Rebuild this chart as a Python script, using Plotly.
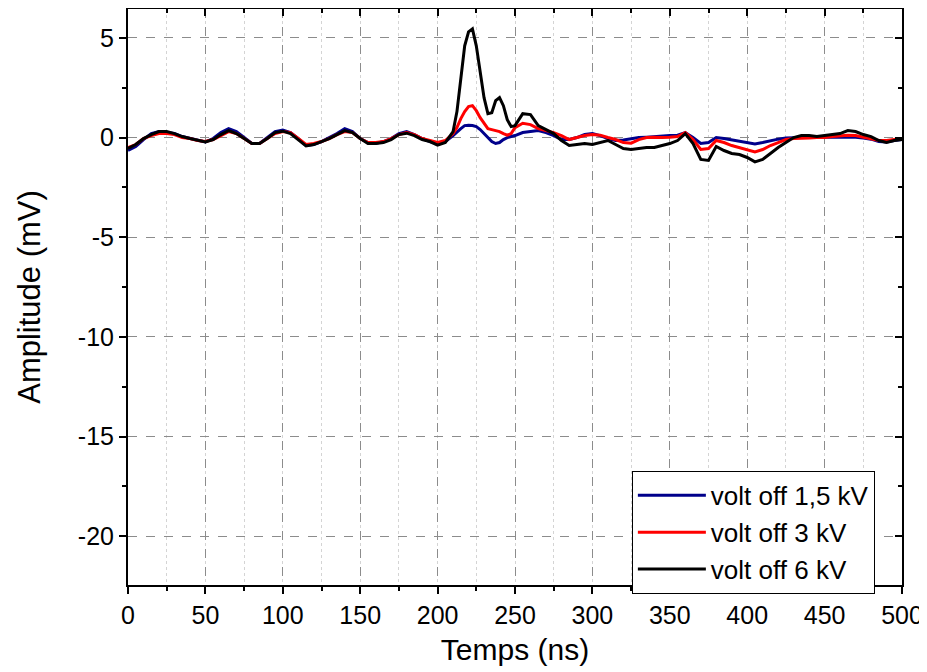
import plotly.graph_objects as go

# time axis (ns)
time_ns = [0, 5, 10, 15, 20, 25, 30, 35, 40, 45, 50, 55, 60, 65, 70, 75, 80, 85, 90, 95,
           100, 105, 110, 115, 120, 125, 130, 135, 140, 145, 150, 155, 160, 165, 170, 175,
           180, 185, 190, 195, 200, 205, 210,
           212.5, 215, 217.5, 220, 222.5, 225, 227.5, 230, 232.5, 235, 237.5, 240, 242.5,
           245, 247.5, 250,
           255, 260, 265, 270, 275, 280, 285, 290, 295, 300, 305, 310, 315, 320, 325, 330,
           335, 340, 345, 350, 355, 360, 365, 370, 375, 380, 385, 390, 395, 400, 405, 410,
           415, 420, 425, 430, 435, 440, 445, 450, 455, 460, 465, 470, 475, 480, 485, 490,
           495, 500]

volt_1_5kV = [-0.65, -0.45, -0.1, 0.2, 0.3, 0.25, 0.2, 0.05, -0.05, -0.15, -0.22, -0.05, 0.25,
              0.45, 0.3, 0.0, -0.3, -0.3, 0.0, 0.3, 0.38, 0.25, -0.05, -0.4, -0.35, -0.2, 0.0,
              0.2, 0.45, 0.3, -0.05, -0.25, -0.3, -0.2, -0.05, 0.2, 0.3, 0.15, -0.05, -0.2,
              -0.3, -0.2, 0.1,
              0.3, 0.45, 0.6, 0.62, 0.6, 0.55, 0.4, 0.2, 0.0, -0.2, -0.3, -0.25, -0.1, 0.0,
              0.05, 0.1,
              0.25, 0.3, 0.35, 0.25, 0.1, -0.1, -0.1, 0.0, 0.15, 0.2, 0.1, -0.05, -0.15, -0.12,
              -0.05, 0.0, 0.02, 0.05, 0.1, 0.1, 0.12, 0.25, 0.0, -0.3, -0.25, 0.0, -0.05, -0.12,
              -0.2, -0.25, -0.32, -0.25, -0.15, -0.08, -0.02, 0.0, 0.02, 0.02, 0.02, 0.02, 0.05,
              0.05, 0.05, 0.02, -0.02, -0.08, -0.2, -0.22, -0.15, -0.1]

volt_3kV = [-0.5, -0.35, -0.05, 0.1, 0.2, 0.2, 0.15, 0.0, -0.05, -0.15, -0.2, -0.1, 0.1, 0.3,
            0.2, -0.05, -0.3, -0.3, -0.05, 0.2, 0.3, 0.25, -0.05, -0.35, -0.3, -0.2, -0.05,
            0.15, 0.3, 0.25, -0.05, -0.25, -0.25, -0.2, -0.05, 0.15, 0.25, 0.15, -0.05, -0.15,
            -0.25, -0.15, 0.2,
            0.5, 0.95, 1.3, 1.55, 1.6, 1.35, 1.0, 0.7, 0.45, 0.4, 0.35, 0.3, 0.2, 0.12, 0.2,
            0.5,
            0.72, 0.65, 0.45, 0.35, 0.25, 0.1, -0.1, 0.0, 0.1, 0.15, 0.12, 0.0, -0.1, -0.25,
            -0.28, -0.1, 0.0, 0.02, 0.0, 0.02, 0.05, 0.25, -0.1, -0.6, -0.55, -0.15, -0.25,
            -0.4, -0.5, -0.6, -0.72, -0.6, -0.4, -0.25, -0.1, -0.05, -0.02, -0.02, 0.0, 0.0,
            0.05, 0.1, 0.12, 0.1, 0.02, -0.05, -0.15, -0.15, -0.1, -0.05]

volt_6kV = [-0.55, -0.35, -0.05, 0.15, 0.3, 0.3, 0.2, 0.05, -0.05, -0.15, -0.22, -0.1, 0.15,
            0.35, 0.2, -0.05, -0.3, -0.3, -0.05, 0.25, 0.32, 0.2, -0.1, -0.42, -0.35, -0.2,
            -0.05, 0.15, 0.35, 0.25, -0.05, -0.3, -0.3, -0.25, -0.1, 0.15, 0.22, 0.1, -0.1,
            -0.2, -0.38, -0.25, 0.3,
            1.3, 3.0, 4.6, 5.3, 5.45, 4.6, 3.3, 2.0, 1.2, 1.25, 1.85, 2.0, 1.6, 0.9, 0.55,
            0.6,
            1.2, 1.15, 0.6, 0.38, 0.2, -0.15, -0.4, -0.35, -0.3, -0.35, -0.25, -0.15, -0.35,
            -0.55, -0.6, -0.55, -0.5, -0.5, -0.4, -0.3, -0.15, 0.2, -0.3, -1.1, -1.15, -0.45,
            -0.65, -0.8, -0.85, -1.0, -1.22, -1.1, -0.8, -0.5, -0.25, 0.0, 0.1, 0.1, 0.05,
            0.1, 0.15, 0.2, 0.35, 0.3, 0.15, 0.05, -0.15, -0.25, -0.15, -0.1]

series_names = ["volt off 1,5 kV", "volt off 3 kV", "volt off 6 kV"]
series_colors = ["#00008B", "#FF0000", "#000000"]

x_ticks = [0, 50, 100, 150, 200, 250, 300, 350, 400, 450, 500]
x_tick_labels = ["0", "50", "100", "150", "200", "250", "300", "350", "400", "450", "500"]
y_ticks = [5, 0, -5, -10, -15, -20]
y_tick_labels = ["5", "0", "-5", "-10", "-15", "-20"]

FONT = "Arial, Liberation Sans, sans-serif"

fig = go.Figure()
for name, vals, col in zip(series_names, [volt_1_5kV, volt_3kV, volt_6kV], series_colors):
    fig.add_trace(go.Scatter(x=time_ns, y=vals, mode="lines", name=name,
                             line=dict(color=col, width=3)))

# invisible trace to anchor the mirrored (top / right) axes with inside ticks
fig.add_trace(go.Scatter(x=[0], y=[0], xaxis="x2", yaxis="y2", mode="markers",
                         marker=dict(opacity=0), showlegend=False, hoverinfo="skip"))

xr = [0, 500]
yr = [-22.45, 6.45]

fig.update_layout(
    width=919, height=664,
    margin=dict(l=120, r=25, t=1, b=87),
    paper_bgcolor="white", plot_bgcolor="white",
    font=dict(family=FONT, size=25, color="black"),
    xaxis=dict(range=xr, tickvals=x_ticks, ticktext=x_tick_labels, ticks="outside",
               ticklen=7, tickwidth=2,
               tickcolor="black", showline=True, linecolor="black", linewidth=2,
               showgrid=True, gridcolor="#8c8c8c", griddash="dash", gridwidth=1,
               zeroline=False,
               minor=dict(dtick=25, ticks="outside", ticklen=4, tickwidth=2, tickcolor="black",
                          showgrid=True, gridcolor="#d4d4d4", griddash="dot", gridwidth=1),
               title=dict(text="Temps (ns)", font=dict(size=30), standoff=11),
               tickfont=dict(size=25)),
    yaxis=dict(range=yr, tickvals=y_ticks, ticktext=y_tick_labels, ticks="outside",
               ticklen=7, tickwidth=2,
               tickcolor="black", showline=True, linecolor="black", linewidth=2,
               showgrid=True, gridcolor="#8c8c8c", griddash="dash", gridwidth=1,
               zeroline=False,
               minor=dict(dtick=2.5, ticks="outside", ticklen=4, tickwidth=2, tickcolor="black",
                          showgrid=False),
               title=dict(text="Amplitude (mV)", font=dict(size=31), standoff=28),
               tickfont=dict(size=25)),
    xaxis2=dict(range=xr, overlaying="x", side="top", anchor="y", tickvals=x_ticks,
                showticklabels=False, ticks="inside", ticklen=7, tickwidth=2,
                tickcolor="black", showline=True, linecolor="black", linewidth=2,
                showgrid=False, zeroline=False,
                minor=dict(dtick=25, ticks="inside", ticklen=4, tickwidth=2,
                           tickcolor="black", showgrid=False)),
    yaxis2=dict(range=yr, overlaying="y", side="right", anchor="x", tickvals=y_ticks,
                showticklabels=False, ticks="inside", ticklen=7, tickwidth=2,
                tickcolor="black", showline=True, linecolor="black", linewidth=2,
                showgrid=False, zeroline=False,
                minor=dict(dtick=2.5, ticks="inside", ticklen=4, tickwidth=2,
                           tickcolor="black", showgrid=False)),
    legend=dict(x=0.651, y=0.198, xanchor="left", yanchor="top",
                bgcolor="white", bordercolor="black", borderwidth=1,
                font=dict(size=26), itemwidth=68, tracegroupgap=0),
    showlegend=True,
)

fig.write_html("out.html")
